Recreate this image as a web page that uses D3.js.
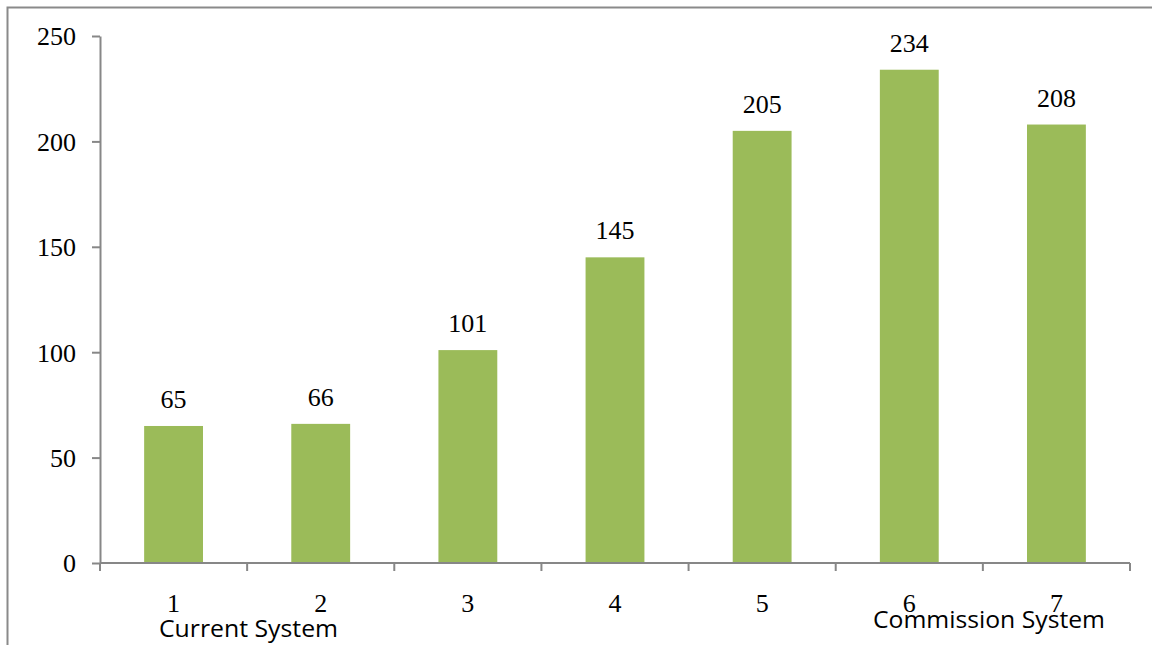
<!DOCTYPE html>
<html>
<head>
<meta charset="utf-8">
<script src="https://cdn.jsdelivr.net/npm/d3@7"></script>
<style>
  html, body { margin: 0; padding: 0; background: #fff; }
  svg { display: block; }
</style>
</head>
<body>
<svg id="chart" width="1152" height="645"></svg>
<script>
const categories = ["1", "2", "3", "4", "5", "6", "7"];
const values = [65, 66, 101, 145, 205, 234, 208];
const yTicks = [0, 50, 100, 150, 200, 250];
const groupLabels = ["Current System", "Commission System"];

const svg = d3.select("#chart");
const W = 1152, H = 645;
const plot = { left: 100, right: 1130, top: 36, bottom: 563 };

// frame (clipped at right/bottom as in reference)
svg.append("path")
  .attr("d", `M7.5,${H} L7.5,7.5 L${W},7.5`)
  .attr("fill", "none").attr("stroke", "#8a8a8a").attr("stroke-width", 2);

const x = d3.scaleBand().domain(categories)
  .range([plot.left, plot.right]).paddingInner(0.6).paddingOuter(0.3);
const y = d3.scaleLinear().domain([0, 250]).range([plot.bottom, plot.top]);

const serif = "'Liberation Serif', 'Times New Roman', serif";
const sans = "'Open Sans', Carlito, Calibri, 'Liberation Sans', sans-serif";
const axisColor = "#878787";

// bars
svg.append("g").selectAll("rect").data(values).join("rect")
  .attr("x", (d, i) => x(categories[i]))
  .attr("y", d => y(d))
  .attr("width", x.bandwidth())
  .attr("height", d => y(0) - y(d))
  .attr("fill", "#9BBB59");

// value labels
svg.append("g").selectAll("text").data(values).join("text")
  .attr("x", (d, i) => x(categories[i]) + x.bandwidth() / 2)
  .attr("y", d => y(d) - 18)
  .attr("text-anchor", "middle")
  .attr("font-family", serif).attr("font-size", 26).attr("fill", "#000")
  .text(d => d);

// y axis
const yAxis = d3.axisLeft(y).tickValues(yTicks).tickSize(8).tickSizeOuter(0).tickPadding(16);
const gy = svg.append("g").attr("transform", `translate(${plot.left},0)`).call(yAxis);
gy.select(".domain").attr("stroke", axisColor).attr("stroke-width", 2);
gy.selectAll(".tick line").attr("stroke", axisColor).attr("stroke-width", 2);
gy.selectAll(".tick text").attr("font-family", serif).attr("font-size", 26).attr("fill", "#000")
  .attr("dy", "0.34em");

// x axis
const step = x.step();
const gx = svg.append("g").attr("transform", `translate(0,${plot.bottom})`);
gx.append("line").attr("x1", plot.left).attr("x2", plot.right)
  .attr("stroke", axisColor).attr("stroke-width", 2);
gx.selectAll("line.tk").data(d3.range(categories.length + 1)).join("line")
  .attr("class", "tk")
  .attr("x1", i => plot.left + i * step).attr("x2", i => plot.left + i * step)
  .attr("y1", 0).attr("y2", 8)
  .attr("stroke", axisColor).attr("stroke-width", 2);
gx.selectAll("text").data(categories).join("text")
  .attr("x", d => x(d) + x.bandwidth() / 2)
  .attr("y", 49)
  .attr("text-anchor", "middle")
  .attr("font-family", serif).attr("font-size", 26).attr("fill", "#000")
  .text(d => d);

// group labels
const groupPos = [{ cx: 248.5, base: 637, len: 179 }, { cx: 989, base: 628, len: 232 }];
svg.append("g").selectAll("text").data(groupLabels).join("text")
  .attr("x", (d, i) => groupPos[i].cx - groupPos[i].len / 2)
  .attr("y", (d, i) => groupPos[i].base)
  .attr("font-family", sans).attr("font-size", 24).attr("fill", "#000")
  .attr("textLength", (d, i) => groupPos[i].len)
  .attr("lengthAdjust", "spacingAndGlyphs")
  .text(d => d);
</script>
</body>
</html>
